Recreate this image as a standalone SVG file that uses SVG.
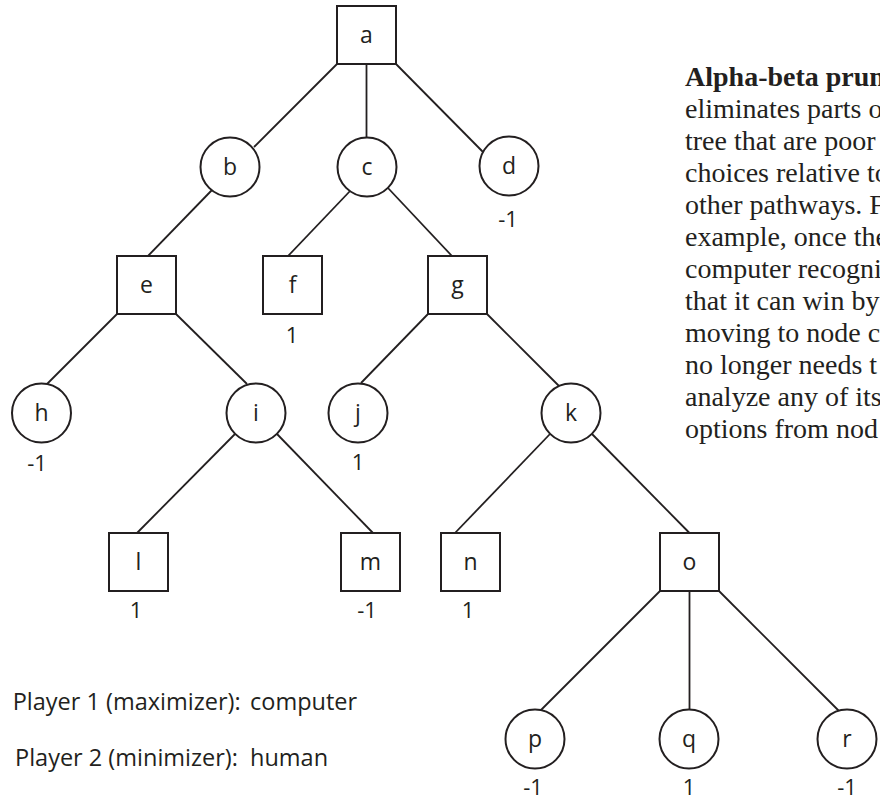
<svg xmlns="http://www.w3.org/2000/svg" width="880" height="802" viewBox="0 0 880 802">
  <style>
    .box { fill: #ffffff; stroke: #231f20; stroke-width: 2; }
    .ring { fill: #ffffff; stroke: #231f20; stroke-width: 2; }
    .edge { stroke: #231f20; stroke-width: 1.8; fill: none; }
    .lbl { font-family: "Open Sans", "Noto Sans", "DejaVu Sans", sans-serif; font-size: 23px; fill: #231f20; text-anchor: middle; }
    .val { font-family: "Open Sans", "Noto Sans", "DejaVu Sans", sans-serif; font-size: 22px; fill: #231f20; text-anchor: middle; }
    .key { font-family: "Open Sans", "Noto Sans", "DejaVu Sans", sans-serif; font-size: 23.5px; fill: #231f20; }
    .para { font-family: "Liberation Serif", "Times New Roman", serif; font-size: 28px; fill: #231f20; }
    .para-b { font-weight: bold; }
  </style>
  <rect width="880" height="802" fill="#ffffff"/>

  <!-- tree edges -->
  <g id="edges">
    <line class="edge" x1="337" y1="64" x2="254" y2="147"/>
    <line class="edge" x1="366.5" y1="64" x2="366.5" y2="137.5"/>
    <line class="edge" x1="396" y1="64" x2="483" y2="152"/>
    <line class="edge" x1="212" y1="190" x2="148" y2="256"/>
    <line class="edge" x1="351" y1="190" x2="288" y2="256"/>
    <line class="edge" x1="388" y1="188" x2="452" y2="256"/>
    <line class="edge" x1="117" y1="314" x2="47" y2="384"/>
    <line class="edge" x1="176" y1="314" x2="247" y2="384"/>
    <line class="edge" x1="428" y1="314" x2="361" y2="383"/>
    <line class="edge" x1="487" y1="314" x2="559" y2="386"/>
    <line class="edge" x1="235" y1="434" x2="137" y2="533"/>
    <line class="edge" x1="277" y1="434" x2="373" y2="533"/>
    <line class="edge" x1="550" y1="434" x2="455" y2="533"/>
    <line class="edge" x1="592" y1="434" x2="689.5" y2="533"/>
    <line class="edge" x1="660" y1="591" x2="541" y2="710"/>
    <line class="edge" x1="689.5" y1="591" x2="689.5" y2="709.5"/>
    <line class="edge" x1="719" y1="591" x2="839" y2="711"/>
  </g>

  <!-- nodes: squares = maximizer, circles = minimizer -->
  <g id="node-a"><rect class="box" x="337" y="6" width="59" height="58"/><text class="lbl" x="366.5" y="43">a</text></g>
  <g id="node-b"><circle class="ring" cx="230" cy="167" r="29.5"/><text class="lbl" x="230" y="175">b</text></g>
  <g id="node-c"><circle class="ring" cx="367" cy="167" r="29.5"/><text class="lbl" x="367" y="175">c</text></g>
  <g id="node-d"><circle class="ring" cx="509" cy="166" r="29.5"/><text class="lbl" x="509" y="174">d</text><text class="val" x="508" y="227">-1</text></g>
  <g id="node-e"><rect class="box" x="117" y="256" width="59" height="58"/><text class="lbl" x="146.5" y="293">e</text></g>
  <g id="node-f"><rect class="box" x="263" y="256" width="59" height="58"/><text class="lbl" x="292.5" y="293">f</text><text class="val" x="292" y="343">1</text></g>
  <g id="node-g"><rect class="box" x="428" y="256" width="59" height="58"/><text class="lbl" x="457.5" y="293">g</text></g>
  <g id="node-h"><circle class="ring" cx="41.5" cy="413" r="29.5"/><text class="lbl" x="41.5" y="421">h</text><text class="val" x="37" y="471">-1</text></g>
  <g id="node-i"><circle class="ring" cx="256" cy="413" r="29.5"/><text class="lbl" x="256" y="421">i</text></g>
  <g id="node-j"><circle class="ring" cx="358" cy="413" r="29.5"/><text class="lbl" x="358" y="421">j</text><text class="val" x="358" y="470">1</text></g>
  <g id="node-k"><circle class="ring" cx="571" cy="413" r="29.5"/><text class="lbl" x="571" y="421">k</text></g>
  <g id="node-l"><rect class="box" x="109" y="533" width="59" height="58"/><text class="lbl" x="138.5" y="570">l</text><text class="val" x="136" y="618">1</text></g>
  <g id="node-m"><rect class="box" x="341" y="533" width="59" height="58"/><text class="lbl" x="370.5" y="570">m</text><text class="val" x="367" y="618">-1</text></g>
  <g id="node-n"><rect class="box" x="441" y="533" width="59" height="58"/><text class="lbl" x="470.5" y="570">n</text><text class="val" x="468" y="618">1</text></g>
  <g id="node-o"><rect class="box" x="660" y="533" width="59" height="58"/><text class="lbl" x="689.5" y="570">o</text></g>
  <g id="node-p"><circle class="ring" cx="535" cy="739" r="29.5"/><text class="lbl" x="535" y="747">p</text><text class="val" x="533" y="795">-1</text></g>
  <g id="node-q"><circle class="ring" cx="689" cy="739" r="29.5"/><text class="lbl" x="689" y="747">q</text><text class="val" x="689" y="795">1</text></g>
  <g id="node-r"><circle class="ring" cx="847" cy="739" r="29.5"/><text class="lbl" x="847" y="747">r</text><text class="val" x="847" y="795">-1</text></g>

  <!-- player key -->
  <g id="key">
    <text class="key" x="12.7" y="710">Player 1 (maximizer):<tspan x="250">computer</tspan></text>
    <text class="key" x="15" y="766">Player 2 (minimizer):<tspan x="250">human</tspan></text>
  </g>

  <!-- side note, running off the right edge -->
  <g id="note" class="para">
    <text x="685" y="85.5" class="para-b">Alpha-beta prun</text>
    <text x="685" y="117.5">eliminates parts o</text>
    <text x="685" y="149.5">tree that are poor</text>
    <text x="685" y="181.5">choices relative to</text>
    <text x="685" y="213.5">other pathways. F</text>
    <text x="685" y="245.5">example, once the</text>
    <text x="685" y="277.5">computer recogni</text>
    <text x="685" y="309.5">that it can win by</text>
    <text x="685" y="341.5">moving to node c</text>
    <text x="685" y="373.5">no longer needs t</text>
    <text x="685" y="405.5">analyze any of its</text>
    <text x="685" y="437.5">options from nod</text>
  </g>
</svg>
